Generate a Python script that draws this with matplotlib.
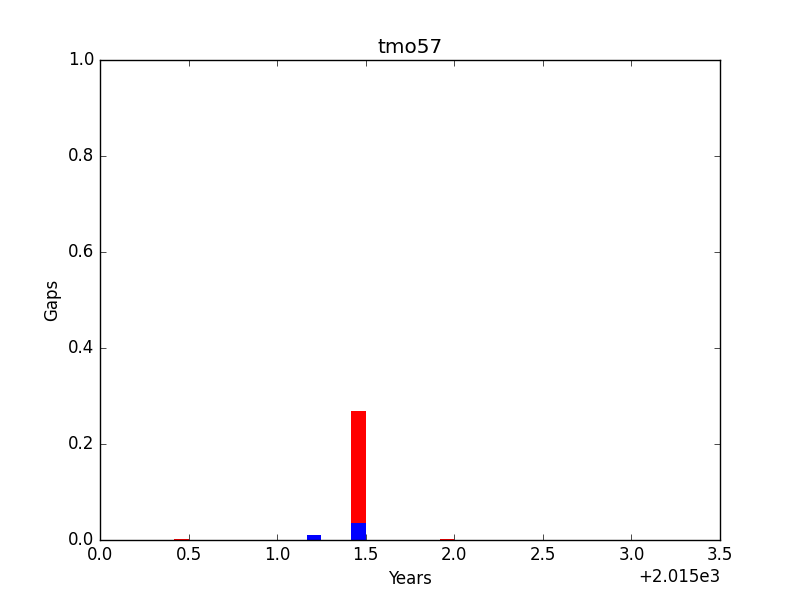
import matplotlib
matplotlib.use('Agg')
import matplotlib.pyplot as plt
import numpy as np

plt.style.use('classic')

# month index counted from Jan 2015
months = [5, 14, 17, 23]
blue_gaps = [0.0, 0.0104, 0.035, 0.0]
red_gaps = [0.002, 0.0, 0.234, 0.003]

x = 2015 + np.array(months) / 12.0
width = 1.0 / 12

fig = plt.figure(figsize=(8, 6), dpi=100, facecolor='white')
ax = fig.add_subplot(111)

ax.bar(x, blue_gaps, width=width, align='edge', color='blue', linewidth=0)
ax.bar(x, red_gaps, width=width, align='edge', bottom=blue_gaps, color='red', linewidth=0)

ax.set_xlim(2015, 2018.5)
ax.set_ylim(0, 1)
ax.ticklabel_format(axis='x', useOffset=2015)
ax.set_title('tmo57')
ax.set_xlabel('Years')
ax.set_ylabel('Gaps')

fig.savefig('out.png', dpi=100, facecolor='white')
